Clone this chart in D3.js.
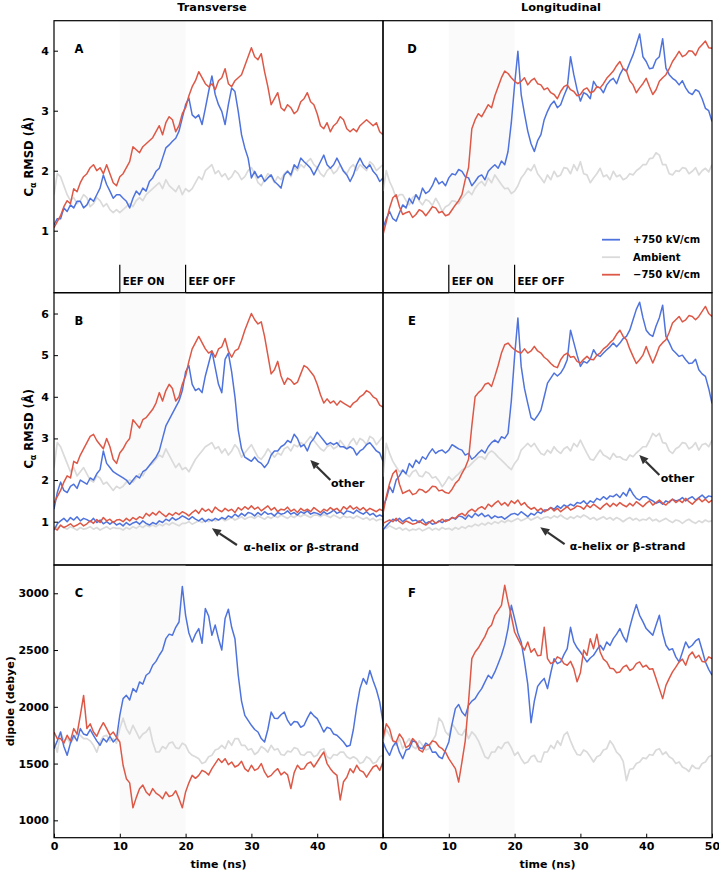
<!DOCTYPE html>
<html><head><meta charset="utf-8">
<script src="https://cdn.jsdelivr.net/npm/d3@7"></script>
<style>body{margin:0;background:#fff}svg{display:block}text{font-family:"DejaVu Sans",sans-serif;font-weight:bold;fill:#000}</style>
</head><body><svg id="c" width="719" height="874"></svg>
<script>
// sampling times (ns), one value every 0.5 ns
const timeNs = d3.range(0, 50.001, 0.5);

// ---- Transverse, Calpha RMSD (A) ----
const transA_pos = [1.1,1.2,1.2,1.38,1.32,1.43,1.38,1.49,1.49,1.38, 1.43,1.54,1.49,1.6,1.71,1.93,1.77,1.66,1.54,1.6, 1.6,1.54,1.49,1.38,1.54,1.66,1.6,1.71,1.66,1.82, 1.88,1.99,2.04,2.21,2.38,2.43,2.49,2.54,2.66,2.88, 3.1,3.21,2.93,2.88,2.93,2.77,3.04,3.32,3.58,3.27, 3.1,2.99,2.77,3.1,3.38,3.32,2.99,2.6,2.38,2.21, 1.88,1.99,1.88,1.93,1.82,1.88,1.93,1.82,1.77,1.71, 1.93,1.99,1.93,2.1,2.04,2.21,2.15,2.1,2.04,1.93, 2.04,2.15,2.26,2.1,2.04,2.1,2.21,2.1,1.99,1.93, 1.82,1.93,2.1,2.21,2.1,2.04,2.1,1.99,1.93,1.82, 1.88];
const transA_amb = [1.6,1.95,1.9,1.75,1.6,1.5,1.55,1.45,1.5,1.6, 1.55,1.4,1.45,1.55,1.5,1.4,1.45,1.35,1.3,1.35, 1.3,1.35,1.4,1.45,1.4,1.5,1.55,1.5,1.6,1.65, 1.7,1.75,1.8,1.7,1.85,1.75,1.7,1.65,1.75,1.6, 1.7,1.65,1.7,1.8,1.9,1.85,2.0,2.05,2.1,1.95, 2.0,1.9,1.95,1.85,1.9,2.0,1.95,1.85,1.9,2.0, 2.05,1.95,1.8,1.75,1.85,1.95,1.9,1.8,1.9,1.85, 1.95,2.0,1.9,2.05,2.0,2.1,2.05,2.15,2.2,2.1, 2.05,1.95,1.9,2.0,2.05,1.95,2.0,2.1,2.0,1.95, 2.05,2.1,2.0,2.1,2.05,2.0,2.15,2.1,2.0,2.05, 2.1];
const transA_neg = [1.05,1.15,1.25,1.4,1.5,1.45,1.7,1.65,1.8,1.9, 1.95,2.05,2.1,2.0,2.05,1.95,2.1,1.95,1.8,1.75, 1.9,1.95,2.05,2.15,2.4,2.35,2.3,2.4,2.45,2.5, 2.55,2.65,2.75,2.6,2.8,2.9,2.85,2.65,2.75,2.95, 3.05,3.25,3.4,3.5,3.65,3.55,3.45,3.4,3.45,3.35, 3.5,3.55,3.7,3.45,3.4,3.5,3.55,3.6,3.75,3.9, 4.05,3.9,3.85,3.95,3.65,3.4,3.1,3.2,3.3,3.05, 3.0,3.1,3.05,2.95,3.0,3.15,3.2,3.3,3.15,3.1, 2.95,2.75,2.7,2.8,2.65,2.75,2.8,2.9,2.85,2.7, 2.65,2.7,2.65,2.75,2.8,2.85,2.8,2.75,2.8,2.65, 2.6];

// ---- Transverse, RMSD by structure (B) ----
const transB_pos = [1.3,1.7,1.95,1.75,1.7,1.85,1.9,1.8,2.0,1.95, 1.9,2.05,2.0,2.15,2.25,2.7,2.4,2.3,2.2,2.15, 2.1,2.05,2.0,1.9,2.0,2.1,2.05,2.2,2.25,2.35, 2.45,2.55,2.7,3.0,3.3,3.45,3.6,3.75,3.9,4.15, 4.6,4.75,4.3,4.15,4.2,4.1,4.5,4.8,5.1,4.7, 4.3,4.1,4.9,5.05,4.6,4.0,3.2,2.75,2.55,2.5, 2.45,2.55,2.45,2.4,2.3,2.4,2.6,2.7,2.7,2.8, 2.85,2.95,2.9,3.1,3.0,2.8,2.85,2.7,2.9,3.0, 3.15,3.05,2.95,2.85,2.9,2.85,2.9,2.8,2.8,2.75, 2.8,2.75,2.6,2.7,2.75,2.85,2.9,2.8,2.7,2.65, 2.45];
const transB_amb = [2.3,2.9,2.8,2.6,2.4,2.2,2.3,2.1,2.2,2.3, 2.15,2.0,1.95,2.1,2.05,1.9,1.95,1.85,1.75,1.85, 1.8,1.85,1.95,2.0,1.95,2.05,2.15,2.1,2.25,2.35, 2.4,2.5,2.6,2.55,2.75,2.6,2.45,2.3,2.4,2.25, 2.3,2.2,2.35,2.5,2.6,2.7,2.8,2.85,2.9,2.75, 2.8,2.65,2.75,2.6,2.7,2.85,2.75,2.55,2.65,2.75, 2.85,2.7,2.55,2.5,2.6,2.75,2.65,2.55,2.65,2.6, 2.75,2.8,2.7,2.85,2.8,2.9,2.85,2.95,3.05,2.95, 2.85,2.75,2.7,2.8,2.85,2.75,2.8,2.95,2.85,2.75, 2.9,3.0,2.85,3.0,2.95,2.85,3.05,3.0,2.85,2.95, 3.05];
const transB_neg = [1.45,1.6,1.75,1.95,2.1,2.05,2.45,2.4,2.6,2.75, 2.9,3.05,3.1,2.95,2.85,2.75,3.0,2.8,2.5,2.4, 2.65,2.75,2.9,3.0,3.45,3.35,3.25,3.45,3.5,3.6, 3.7,3.85,4.1,3.9,4.15,4.3,4.2,3.9,4.0,4.3, 4.5,4.85,5.15,5.3,5.45,5.3,5.15,5.05,5.1,4.95, 5.15,5.2,5.4,5.1,4.95,5.1,5.15,5.35,5.6,5.8, 6.0,5.85,5.75,5.8,5.45,5.0,4.55,4.65,4.85,4.5, 4.3,4.45,4.4,4.3,4.35,4.55,4.75,4.7,4.6,4.5, 4.3,4.05,3.85,3.95,3.85,3.9,3.8,3.9,3.85,3.8, 3.75,3.85,3.9,4.0,4.05,4.15,4.1,4.0,3.95,3.8, 3.75];
const transBhelix_pos = [0.8,0.95,1.02,1.08,1.0,1.1,1.04,1.12,1.02,1.08, 1.05,1.0,1.08,0.98,1.04,0.95,1.0,0.94,1.0,0.92, 0.96,0.9,0.98,0.92,0.97,1.0,0.94,1.02,0.96,0.92, 0.98,0.94,1.02,0.98,1.06,1.02,1.1,1.04,1.08,1.14, 1.1,1.05,1.12,1.06,1.02,1.08,1.0,1.06,1.02,1.08, 1.04,1.1,1.06,1.14,1.1,1.18,1.12,1.2,1.14,1.22, 1.2,1.14,1.22,1.16,1.24,1.18,1.2,1.14,1.22,1.18, 1.2,1.26,1.18,1.22,1.16,1.24,1.2,1.26,1.18,1.22, 1.2,1.16,1.24,1.18,1.22,1.28,1.2,1.24,1.18,1.26, 1.24,1.2,1.28,1.22,1.18,1.24,1.16,1.2,1.12,1.16, 1.12];
const transBhelix_amb = [0.88,0.85,0.9,0.86,0.82,0.88,0.84,0.8,0.86,0.82, 0.84,0.88,0.82,0.86,0.8,0.84,0.88,0.82,0.86,0.84, 0.84,0.8,0.86,0.82,0.88,0.84,0.9,0.86,0.92,0.88, 0.92,0.88,0.94,0.9,0.96,0.92,0.98,0.94,0.9,0.96, 0.96,1.0,0.94,0.98,1.02,0.98,1.04,1.0,1.06,1.02, 1.04,1.08,1.02,1.06,1.1,1.04,1.08,1.12,1.06,1.1, 1.12,1.08,1.14,1.1,1.06,1.12,1.08,1.14,1.1,1.16, 1.12,1.08,1.14,1.1,1.16,1.12,1.18,1.14,1.1,1.16, 1.16,1.12,1.18,1.14,1.1,1.16,1.12,1.08,1.14,1.1, 1.12,1.08,1.14,1.1,1.06,1.1,1.04,1.08,1.02,1.06, 1.04];
const transBhelix_neg = [0.85,0.8,0.92,0.86,0.9,0.95,0.88,0.92,0.97,0.9, 0.95,1.02,0.96,1.05,0.98,1.1,1.02,1.06,0.98,1.04, 1.05,1.0,1.08,1.02,1.1,1.05,1.12,1.08,1.2,1.14, 1.22,1.16,1.25,1.18,1.12,1.2,1.15,1.22,1.17,1.24, 1.2,1.14,1.22,1.28,1.2,1.32,1.25,1.3,1.22,1.35, 1.28,1.24,1.32,1.26,1.3,1.22,1.34,1.28,1.36,1.3, 1.38,1.3,1.35,1.26,1.32,1.38,1.28,1.34,1.24,1.3, 1.28,1.35,1.25,1.3,1.22,1.32,1.26,1.3,1.24,1.34, 1.28,1.22,1.3,1.26,1.34,1.28,1.32,1.24,1.36,1.3, 1.38,1.3,1.35,1.28,1.34,1.26,1.32,1.28,1.24,1.3, 1.26];

// ---- Transverse, dipole (C) ----
const transC_pos = [1631,1700,1778,1650,1573,1680,1749,1700,1808,1760, 1749,1800,1749,1700,1661,1720,1690,1740,1690,1720, 1925,2072,2101,2060,2160,2130,2219,2200,2278,2300, 2366,2400,2454,2500,2600,2640,2630,2700,2747,3060, 2806,2650,2571,2640,2689,2560,2865,2800,2630,2720, 2600,2500,2777,2860,2700,2600,2278,2050,1925,1880, 1837,1800,1778,1720,1690,1800,1954,1900,1896,1930, 1954,1880,1837,1870,1866,1820,1837,1900,1954,1920, 1896,1840,1778,1820,1808,1760,1749,1720,1690,1650, 1661,1800,2000,2160,2250,2200,2320,2230,2150,2043, 1866];
const transC_amb = [1690,1600,1778,1700,1720,1680,1720,1760,1749,1720, 1720,1700,1661,1600,1690,1740,1749,1700,1720,1680, 1808,1900,1808,1760,1837,1780,1720,1760,1778,1820, 1690,1602,1602,1650,1631,1680,1690,1640,1631,1680, 1661,1600,1573,1560,1543,1500,1514,1560,1573,1620, 1631,1660,1631,1700,1661,1720,1720,1660,1661,1620, 1631,1580,1602,1650,1631,1600,1661,1620,1631,1580, 1573,1610,1602,1640,1631,1580,1573,1600,1602,1560, 1573,1620,1631,1560,1543,1580,1573,1600,1602,1560, 1543,1560,1543,1500,1514,1560,1543,1500,1514,1560, 1573];
const transC_neg = [1778,1720,1720,1680,1749,1700,1808,1760,1925,2100, 1808,1850,1778,1740,1808,1860,1808,1750,1778,1730, 1690,1485,1367,1330,1110,1200,1279,1310,1250,1220, 1279,1240,1220,1190,1250,1210,1220,1260,1191,1110, 1250,1330,1396,1370,1396,1440,1426,1400,1455,1500, 1543,1510,1543,1490,1514,1470,1485,1520,1455,1430, 1485,1440,1455,1500,1426,1380,1396,1430,1455,1400, 1426,1400,1280,1420,1485,1450,1455,1500,1514,1470, 1514,1560,1602,1500,1455,1420,1396,1180,1340,1380, 1455,1420,1485,1440,1426,1380,1426,1470,1485,1440, 1514];

// ---- Longitudinal, Calpha RMSD (D) ----
const longD_pos = [1.04,1.2,1.32,1.2,1.16,1.3,1.43,1.38,1.54,1.45, 1.6,1.52,1.71,1.62,1.66,1.75,1.88,1.78,1.82,1.75, 1.88,1.95,1.93,2.02,1.99,1.9,1.88,1.75,1.82,1.9, 1.93,1.85,1.99,2.05,2.1,2.04,2.16,2.1,2.32,2.8, 3.43,3.99,3.27,2.95,2.66,2.45,2.32,2.5,2.6,2.85, 2.99,3.1,3.16,3.05,3.1,3.25,3.38,3.9,3.6,3.35, 3.16,3.3,3.27,3.2,3.49,3.4,3.38,3.3,3.43,3.5, 3.54,3.45,3.6,3.7,3.66,3.8,3.93,4.1,4.28,3.9, 3.82,3.7,3.71,3.85,3.9,4.2,3.71,3.6,3.54,3.5, 3.43,3.5,3.38,3.3,3.27,3.35,3.32,3.2,3.04,3.0, 2.82];
const longD_amb = [1.66,2.0,1.82,1.7,1.54,1.6,1.6,1.5,1.43,1.55, 1.6,1.5,1.43,1.52,1.49,1.42,1.54,1.45,1.32,1.4, 1.43,1.5,1.49,1.45,1.54,1.6,1.66,1.6,1.71,1.78, 1.82,1.75,1.88,1.8,1.93,1.85,1.77,1.7,1.71,1.62, 1.66,1.75,1.88,1.95,2.04,2.0,2.1,1.95,1.88,1.8, 1.93,1.85,1.99,1.9,1.93,2.05,2.04,1.95,2.1,2.0, 2.15,1.95,1.93,1.8,1.88,1.95,2.04,1.9,1.93,1.85, 1.99,1.9,1.93,1.85,1.88,1.95,1.93,2.0,2.04,2.1, 2.1,2.2,2.21,2.3,2.26,2.1,2.1,1.95,1.93,2.0, 1.99,2.05,2.04,1.95,1.99,2.05,1.93,2.0,2.04,1.98, 2.1];
const longD_neg = [0.93,1.15,1.38,1.55,1.6,1.4,1.27,1.3,1.32,1.22, 1.27,1.35,1.32,1.25,1.32,1.4,1.38,1.3,1.32,1.25, 1.27,1.35,1.43,1.5,1.6,1.85,2.05,2.7,2.85,2.95, 2.9,3.0,3.1,3.05,3.25,3.4,3.55,3.66,3.62,3.55, 3.49,3.45,3.49,3.55,3.43,3.5,3.54,3.45,3.43,3.35, 3.38,3.3,3.27,3.2,3.32,3.4,3.43,3.35,3.32,3.25, 3.27,3.35,3.38,3.3,3.32,3.4,3.38,3.45,3.54,3.6, 3.66,3.75,3.82,3.7,3.66,3.5,3.43,3.3,3.38,3.45, 3.54,3.4,3.27,3.35,3.49,3.55,3.6,3.7,3.82,3.9, 3.99,3.9,3.93,4.0,3.99,3.92,4.04,4.1,4.16,4.05, 4.04];

// ---- Longitudinal, RMSD by structure (E) ----
const longE_pos = [1.36,1.55,1.84,1.7,2.0,2.1,2.24,2.15,2.4,2.3, 2.48,2.4,2.56,2.5,2.64,2.75,2.64,2.7,2.72,2.65, 2.72,2.85,2.8,2.75,2.72,2.6,2.64,2.5,2.56,2.65, 2.72,2.65,2.8,2.9,2.96,2.9,3.04,3.0,3.12,3.9, 4.97,5.89,4.73,4.2,3.84,3.5,3.44,3.55,3.68,4.0, 4.33,4.45,4.57,4.5,4.57,4.7,4.89,5.6,5.3,5.0, 4.73,4.85,4.81,4.9,5.13,5.0,4.97,5.05,5.13,5.2, 5.29,5.2,5.29,5.4,5.45,5.6,5.85,6.1,6.27,5.9, 5.6,5.5,5.45,5.7,5.9,6.2,5.45,5.3,5.13,5.05, 4.97,5.0,4.89,4.8,4.81,4.9,4.65,4.55,4.49,4.2, 3.84];
const longE_amb = [2.08,2.88,2.64,2.45,2.32,2.2,2.24,2.15,2.08,2.2, 2.24,2.1,2.08,2.2,2.16,2.05,2.08,1.98,1.84,1.95, 2.08,2.0,2.08,2.15,2.24,2.3,2.32,2.4,2.48,2.55, 2.56,2.5,2.64,2.7,2.64,2.55,2.48,2.4,2.32,2.25, 2.4,2.5,2.72,2.8,2.88,2.8,2.88,2.75,2.64,2.6, 2.72,2.65,2.8,2.7,2.64,2.75,2.8,2.7,2.88,2.8, 2.96,2.8,2.64,2.5,2.48,2.6,2.72,2.6,2.56,2.5, 2.64,2.55,2.56,2.5,2.48,2.6,2.56,2.65,2.72,2.8, 2.8,2.95,3.12,3.05,3.12,2.9,2.88,2.7,2.64,2.75, 2.8,2.9,2.88,2.75,2.8,2.9,2.72,2.85,2.88,2.8, 2.96];
const longE_neg = [1.2,1.6,1.92,2.15,2.24,1.9,1.68,1.72,1.76,1.65, 1.68,1.78,1.76,1.7,1.76,1.85,1.84,1.74,1.76,1.7, 1.68,1.78,1.92,2.0,2.16,2.3,2.5,3.3,4.0,4.1, 4.17,4.3,4.33,4.25,4.49,4.75,5.05,5.25,5.29,5.2, 5.13,5.08,5.05,5.15,5.05,5.1,5.21,5.1,5.05,4.95, 4.89,4.8,4.73,4.7,4.89,5.0,5.05,4.95,4.97,4.85, 4.81,4.9,4.97,4.9,4.89,5.0,5.05,5.15,5.21,5.3, 5.37,5.5,5.6,5.45,5.37,5.15,4.97,4.8,4.89,5.0, 5.21,5.0,4.81,5.0,5.21,5.3,5.37,5.55,5.77,5.85, 5.93,5.8,5.85,5.95,5.93,5.85,5.93,6.05,6.17,6.0, 5.93];
const longEhelix_pos = [0.8,0.9,0.98,1.06,1.02,1.08,1.0,1.06,1.1,1.02, 1.04,0.98,1.06,0.96,1.0,0.94,0.96,1.02,0.98,1.04, 1.04,1.1,1.06,1.14,1.12,1.06,1.16,1.1,1.2,1.14, 1.2,1.12,1.16,1.08,1.14,1.1,1.12,1.06,1.12,1.18, 1.2,1.16,1.24,1.18,1.12,1.2,1.16,1.24,1.2,1.28, 1.28,1.34,1.3,1.38,1.32,1.4,1.36,1.42,1.38,1.46, 1.44,1.5,1.42,1.5,1.46,1.56,1.52,1.6,1.54,1.62, 1.6,1.66,1.58,1.7,1.62,1.8,1.66,1.56,1.52,1.6, 1.6,1.54,1.5,1.44,1.48,1.42,1.5,1.46,1.54,1.5, 1.52,1.58,1.5,1.56,1.6,1.52,1.58,1.64,1.56,1.62, 1.6];
const longEhelix_amb = [0.88,0.84,0.9,0.86,0.82,0.86,0.8,0.84,0.78,0.82, 0.8,0.84,0.78,0.82,0.86,0.8,0.84,0.8,0.86,0.82, 0.84,0.8,0.86,0.82,0.88,0.84,0.9,0.88,0.94,0.9, 0.96,0.92,0.98,0.94,1.0,0.96,1.02,0.98,1.04,1.0, 1.04,1.08,1.02,1.06,1.1,1.04,1.08,1.12,1.06,1.1, 1.12,1.08,1.14,1.1,1.16,1.1,1.06,1.12,1.08,1.14, 1.1,1.16,1.12,1.06,1.1,1.04,1.08,1.12,1.06,1.1, 1.04,1.1,1.06,1.0,1.06,1.1,1.04,1.08,1.02,1.06, 1.04,1.1,1.02,1.06,1.0,1.04,1.08,1.02,0.98,1.04, 1.02,0.96,1.02,1.06,1.0,0.96,1.02,0.98,1.04,1.0, 1.02];
const longEhelix_neg = [0.96,1.0,1.04,1.0,1.08,1.0,0.95,1.02,0.98,0.94, 0.96,1.02,0.96,0.92,0.98,1.04,0.96,1.0,1.06,1.0, 1.04,1.1,1.08,1.16,1.2,1.14,1.25,1.3,1.24,1.32, 1.36,1.3,1.42,1.36,1.44,1.5,1.4,1.46,1.38,1.5, 1.44,1.52,1.4,1.46,1.36,1.3,1.34,1.26,1.32,1.24, 1.28,1.34,1.26,1.32,1.24,1.3,1.36,1.28,1.32,1.38, 1.36,1.3,1.4,1.34,1.42,1.36,1.3,1.38,1.44,1.36, 1.44,1.38,1.46,1.4,1.36,1.44,1.38,1.48,1.42,1.36, 1.44,1.5,1.4,1.46,1.52,1.44,1.4,1.48,1.54,1.46, 1.52,1.46,1.56,1.48,1.42,1.5,1.56,1.48,1.54,1.46, 1.52];

// ---- Longitudinal, dipole (F) ----
const longF_pos = [1690,1620,1573,1650,1690,1600,1543,1620,1631,1700, 1690,1640,1631,1680,1661,1600,1602,1560,1543,1620, 1690,1850,1984,2020,1954,1920,2013,2050,2072,2120, 2160,2220,2278,2250,2307,2380,2454,2550,2689,2894, 2777,2650,2571,2400,2200,1860,2050,2180,2219,2250, 2160,2300,2424,2380,2395,2460,2512,2700,2571,2520, 2483,2440,2395,2430,2454,2500,2542,2500,2571,2540, 2600,2640,2689,2620,2571,2700,2806,2900,2806,2750, 2689,2660,2630,2720,2806,2650,2542,2500,2512,2440, 2395,2480,2571,2520,2542,2580,2600,2500,2395,2330, 2278];
const longF_amb = [1690,1800,1749,1700,1661,1720,1631,1680,1720,1650, 1631,1700,1661,1620,1631,1700,1749,1900,1866,1780, 1749,1850,1808,1760,1749,1800,1720,1780,1749,1700, 1631,1560,1543,1600,1602,1650,1631,1680,1690,1640, 1573,1600,1543,1500,1514,1560,1573,1520,1514,1600, 1602,1660,1631,1700,1661,1750,1778,1700,1631,1580, 1573,1620,1602,1560,1514,1560,1573,1620,1631,1700, 1661,1600,1573,1520,1350,1450,1455,1500,1514,1550, 1543,1580,1573,1620,1631,1580,1602,1560,1543,1500, 1514,1470,1455,1430,1485,1460,1455,1500,1514,1560, 1573];
const longF_neg = [1720,1850,1808,1700,1690,1760,1720,1640,1661,1720, 1690,1620,1602,1660,1661,1700,1690,1650,1631,1600, 1543,1500,1455,1338,1514,1700,2043,2424,2483,2520, 2571,2620,2689,2720,2806,2850,2894,3070,2924,2800, 2659,2600,2542,2500,2571,2480,2512,2450,2454,2700, 2424,2380,2395,2440,2424,2380,2366,2400,2336,2220, 2300,2500,2454,2600,2512,2640,2483,2420,2395,2340, 2336,2300,2307,2350,2366,2320,2336,2380,2395,2350, 2366,2330,2336,2250,2160,2072,2189,2250,2307,2350, 2395,2420,2366,2450,2483,2430,2454,2400,2395,2440, 2424];

// tick labels
const ticksRmsdTop = [1, 2, 3, 4];
const ticksRmsdMid = [1, 2, 3, 4, 5, 6];
const ticksDipole = [1000, 1500, 2000, 2500, 3000];
const ticksTimeLeft = [0, 10, 20, 30, 40];
const ticksTimeRight = [0, 10, 20, 30, 40, 50];
const legendLabels = ["+750 kV/cm", "Ambient", "\u2212750 kV/cm"];
const columnTitles = ["Transverse", "Longitudinal"];

// ---------------- drawing ----------------
const COL = { pos: "#4f73dd", amb: "#dadada", neg: "#dd5846" };
const svg = d3.select("#c");
const colX = [[54, 383], [383, 712]];
const rowY = [[20.7, 292.7], [292.7, 565], [565, 837.7]];
const rowDomain = [[-0.033, 4.5], [-0.04, 6.5], [847, 3249]];
const rowTicks = [ticksRmsdTop, ticksRmsdMid, ticksDipole];

const panels = [
  { letter: "A", c: 0, r: 0, series: [[transA_amb, "amb"], [transA_pos, "pos"], [transA_neg, "neg"]] },
  { letter: "B", c: 0, r: 1, series: [[transB_amb, "amb"], [transBhelix_amb, "amb"], [transB_pos, "pos"], [transBhelix_pos, "pos"], [transB_neg, "neg"], [transBhelix_neg, "neg"]] },
  { letter: "C", c: 0, r: 2, series: [[transC_amb, "amb"], [transC_pos, "pos"], [transC_neg, "neg"]] },
  { letter: "D", c: 1, r: 0, series: [[longD_amb, "amb"], [longD_pos, "pos"], [longD_neg, "neg"]] },
  { letter: "E", c: 1, r: 1, series: [[longE_amb, "amb"], [longEhelix_amb, "amb"], [longE_pos, "pos"], [longEhelix_pos, "pos"], [longE_neg, "neg"], [longEhelix_neg, "neg"]] },
  { letter: "F", c: 1, r: 2, series: [[longF_amb, "amb"], [longF_pos, "pos"], [longF_neg, "neg"]] }
];

const defs = svg.append("defs");

panels.forEach((p, i) => {
  const [x0, x1] = colX[p.c], [y0, y1] = rowY[p.r];
  const x = d3.scaleLinear().domain([0, 50]).range([x0, x1]);
  const y = d3.scaleLinear().domain(rowDomain[p.r]).range([y1, y0]);
  p.x = x; p.y = y;
  const g = svg.append("g");
  defs.append("clipPath").attr("id", "clip" + i).append("rect")
    .attr("x", x0).attr("y", y0).attr("width", x1 - x0).attr("height", y1 - y0);
  // EEF shading
  g.append("rect").attr("x", x(10)).attr("y", y0).attr("width", x(20) - x(10)).attr("height", y1 - y0)
    .attr("fill", "#fafafa");
  const line = d3.line().x((d, k) => x(timeNs[k])).y(d => y(d));
  const lg = g.append("g").attr("clip-path", `url(#clip${i})`);
  p.series.forEach(([vals, key]) => {
    lg.append("path").datum(vals).attr("d", line).attr("fill", "none")
      .attr("stroke", COL[key]).attr("stroke-width", key === "amb" ? 1.7 : 1.5).attr("stroke-linejoin", "round");
  });
  // frame
  g.append("rect").attr("x", x0).attr("y", y0).attr("width", x1 - x0).attr("height", y1 - y0)
    .attr("fill", "none").attr("stroke", "#000").attr("stroke-width", 1.2);
  // y axis on left column
  if (p.c === 0) {
    const ax = g.append("g").attr("transform", `translate(${x0},0)`)
      .call(d3.axisLeft(y).tickValues(rowTicks[p.r]).tickSizeInner(-4).tickSizeOuter(0).tickPadding(5).tickFormat(d3.format("d")));
    ax.select(".domain").remove();
    ax.selectAll("text").attr("font-size", 11).style("font-family", '"DejaVu Sans",sans-serif').style("font-weight", "bold");
  }
  // x axis on bottom row
  if (p.r === 2) {
    const ax = g.append("g").attr("transform", `translate(0,${y1})`)
      .call(d3.axisBottom(x).tickValues(p.c === 0 ? ticksTimeLeft : ticksTimeRight).tickSizeInner(-4).tickSizeOuter(0).tickPadding(5));
    ax.select(".domain").remove();
    ax.selectAll("text").attr("font-size", 11).style("font-family", '"DejaVu Sans",sans-serif').style("font-weight", "bold");
    g.append("text").attr("x", (x0 + x1) / 2).attr("y", 868).attr("text-anchor", "middle")
      .attr("font-size", 11).text("time (ns)");
  }
  // panel letter
  g.append("text").attr("x", x0 + (p.c === 0 ? 25 : 29)).attr("y", y0 + 28).attr("text-anchor", "middle")
    .attr("dominant-baseline", "central").attr("font-size", 11.5).text(p.letter);
  // EEF markers on top row
  if (p.r === 0) {
    [[10, "EEF ON"], [20, "EEF OFF"]].forEach(([t, lab]) => {
      g.append("line").attr("x1", x(t)).attr("x2", x(t)).attr("y1", 264.7).attr("y2", y1)
        .attr("stroke", "#000").attr("stroke-width", 1.2);
      g.append("text").attr("x", x(t) + 3).attr("y", 284.5).attr("font-size", 10.2).text(lab);
    });
  }
});

// y-axis titles
function rmsdTitle(cy) {
  const t = svg.append("text").attr("transform", `translate(28.5,${cy}) rotate(-90)`)
    .attr("text-anchor", "middle").attr("dy", "0.35em").attr("font-size", 11.5);
  t.append("tspan").text("C");
  t.append("tspan").attr("font-size", 8).attr("dy", 3).text("\u03b1");
  t.append("tspan").attr("dy", -3).text(" RMSD (\u00c5)");
}
rmsdTitle((rowY[0][0] + rowY[0][1]) / 2);
rmsdTitle((rowY[1][0] + rowY[1][1]) / 2);
svg.append("text").attr("transform", `translate(10,${(rowY[2][0] + rowY[2][1]) / 2}) rotate(-90)`)
  .attr("text-anchor", "middle").attr("dy", "0.35em").attr("font-size", 11).text("dipole (debye)");

// column titles
svg.append("text").attr("x", 212).attr("y", 10.5).attr("text-anchor", "middle").attr("font-size", 11.3).text(columnTitles[0]);
svg.append("text").attr("x", 561).attr("y", 10.5).attr("text-anchor", "middle").attr("font-size", 11.3).text(columnTitles[1]);

// legend (panel D)
["pos", "amb", "neg"].forEach((k, i) => {
  const ly = 239.7 + i * 17.5;
  svg.append("line").attr("x1", 602).attr("x2", 620).attr("y1", ly).attr("y2", ly)
    .attr("stroke", COL[k]).attr("stroke-width", 1.8);
  svg.append("text").attr("x", 633).attr("y", ly).attr("dominant-baseline", "central")
    .attr("font-size", 10).text(legendLabels[i]);
});

// annotations in B and E (data coords: tip, tail, label)
const annotations = [
  { p: 1, tip: [38.95, 2.48], tail: [42.0, 2.0], label: "other", at: [42.1, 1.91] },
  { p: 1, tip: [24.0, 0.84], tail: [27.8, 0.44], label: "\u03b1-helix or \u03b2-strand", at: [28.8, 0.385] },
  { p: 4, tip: [38.95, 2.6], tail: [42.0, 2.12], label: "other", at: [42.2, 2.03] },
  { p: 4, tip: [23.9, 0.865], tail: [27.6, 0.46], label: "\u03b1-helix or \u03b2-strand", at: [28.4, 0.4] }
];
annotations.forEach(a => {
  const P = panels[a.p];
  const tx = P.x(a.tip[0]), ty = P.y(a.tip[1]);
  const sx = P.x(a.tail[0]), sy = P.y(a.tail[1]);
  const ang = Math.atan2(ty - sy, tx - sx);
  const L = 9, W = 4;
  const bx = tx - L * Math.cos(ang), by = ty - L * Math.sin(ang);
  svg.append("line").attr("x1", sx).attr("y1", sy).attr("x2", bx).attr("y2", by)
    .attr("stroke", "#333").attr("stroke-width", 2.2);
  const px = -Math.sin(ang), py = Math.cos(ang);
  svg.append("path").attr("d", `M${tx},${ty}L${bx + px * W},${by + py * W}L${bx - px * W},${by - py * W}Z`)
    .attr("fill", "#333");
  svg.append("text").attr("x", P.x(a.at[0])).attr("y", P.y(a.at[1])).attr("dominant-baseline", "central")
    .attr("font-size", 11).text(a.label);
});
</script>
</body></html>
